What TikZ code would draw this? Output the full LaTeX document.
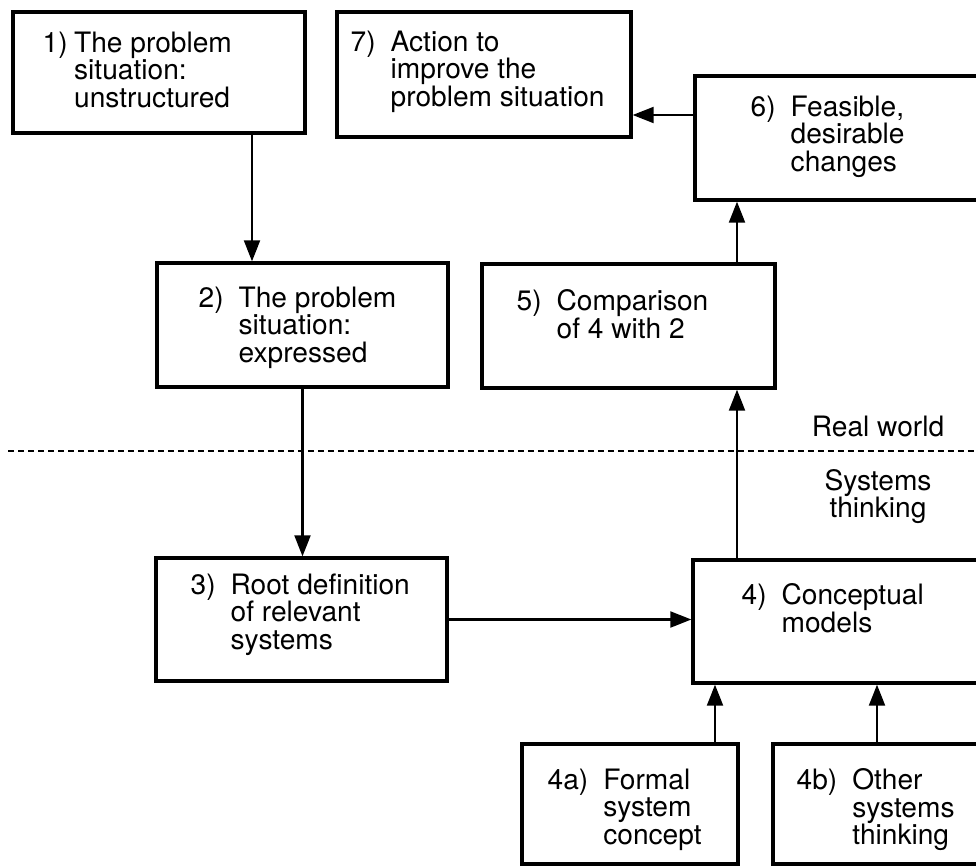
\documentclass[tikz,border=0pt]{standalone}
\usepackage{fontspec}
\setmainfont{TeX Gyre Heros}
\usetikzlibrary{arrows.meta}
\tikzset{>={Triangle[length=4.2mm,width=3.2mm]},
  box/.style={draw, rectangle, line width=1.9pt, inner sep=0pt},
  txt/.style={anchor=north west, inner sep=0pt, font=\fontsize{16}{15.3}\selectfont},
  link/.style={->, line width=1.2pt}}
\newcommand{\stagetext}[3][0.3cm]{#2\hspace{#1}\vtop{\baselineskip=15.6pt\lineskiplimit=-8pt\def\\{\cr}\halign{##\hfil\cr#3\crcr}}}

\begin{document}
\begin{tikzpicture}
     \useasboundingbox (0,0) rectangle (19.52,-17.32);
     \clip (0,0) rectangle (19.52,-17.32);
     % boxes
     \node[box, minimum width=5.84cm, minimum height=2.42cm] (b1) at (3.18,-1.45) {};
     \node[box, minimum width=5.88cm, minimum height=2.5cm] (b7) at (9.68,-1.49) {};
     \node[box, minimum width=6.1cm, minimum height=2.48cm] (b6) at (16.95,-2.76) {};
     \node[box, minimum width=5.82cm, minimum height=2.48cm] (b2) at (6.05,-6.5) {};
     \node[box, minimum width=5.86cm, minimum height=2.48cm] (b5) at (12.57,-6.52) {};
     \node[box, minimum width=5.82cm, minimum height=2.46cm] (b3) at (6.03,-12.39) {};
     \node[box, minimum width=6.14cm, minimum height=2.46cm] (b4) at (16.93,-12.43) {};
     \node[box, minimum width=4.32cm, minimum height=2.4cm] (b4a) at (12.6,-16.08) {};
     \node[box, minimum width=4.54cm, minimum height=2.4cm] (b4b) at (17.73,-16.08) {};
     % texts
     \node[txt] (t1) at ([shift={(0.62,-0.42)}]b1.north west) {\stagetext[0.13cm]{1)}{The problem\\situation:\\unstructured}};
     \node[txt] (t7) at ([shift={(0.3,-0.4)}]b7.north west) {\stagetext{7)}{Action to\\improve the\\problem situation}};
     \node[txt] (t6) at ([shift={(1.14,-0.42)}]b6.north west) {\stagetext{6)}{Feasible,\\desirable\\changes}};
     \node[txt] (t2) at ([shift={(0.86,-0.5)}]b2.north west) {\stagetext{2)}{The problem\\situation:\\expressed}};
     \node[txt] (t5) at ([shift={(0.72,-0.54)}]b5.north west) {\stagetext{5)}{Comparison\\of 4 with 2}};
     \node[txt] (t3) at ([shift={(0.72,-0.34)}]b3.north west) {\stagetext{3)}{Root definition\\of relevant\\systems}};
     \node[txt] (t4) at ([shift={(1.0,-0.5)}]b4.north west) {\stagetext{4)}{Conceptual\\models}};
     \node[txt] (t4a) at ([shift={(0.54,-0.52)}]b4a.north west) {\stagetext{4a)}{Formal\\system\\concept}};
     \node[txt] (t4b) at ([shift={(0.5,-0.52)}]b4b.north west) {\stagetext{4b)}{Other\\systems\\thinking}};
     % real world / systems thinking
     \coordinate (dl) at (0.16,-9.02);
     \coordinate (dr) at (19.6,-9.02);
     \draw[line width=1.3pt, dash pattern=on 0.12cm off 0.08cm] (dl) -- (dr);
     \node[inner sep=0pt, font=\fontsize{16}{15.3}\selectfont, anchor=base] (rw) at (17.56,-8.72) {Real world};
     \node[inner sep=0pt, font=\fontsize{16}{15.3}\selectfont, align=center, anchor=north] (st) at (17.56,-9.38) {Systems\\thinking};
     % arrows
     \coordinate (c1) at (5.04,0);
     \coordinate (col) at (14.74,0);
     \coordinate (ca) at (14.3,0);
     \coordinate (cb) at (17.54,0);
     \coordinate (row) at (0,-2.3);
     \draw[link] (b1.south -| c1) -- (b2.north -| c1);
     \draw[link] (b2.south) -- (b2.south |- b3.north);
     \draw[link] (b3.east) -- (b3.east -| b4.west);
     \draw[link] (b4.north -| col) -- (b5.south -| col);
     \draw[link] (b5.north -| col) -- (b6.south -| col);
     \draw[link] (b6.west |- row) -- (b7.east |- row);
     \draw[link] (b4a.north -| ca) -- (b4.south -| ca);
     \draw[link] (b4b.north -| cb) -- (b4.south -| cb);
\end{tikzpicture}
\end{document}
